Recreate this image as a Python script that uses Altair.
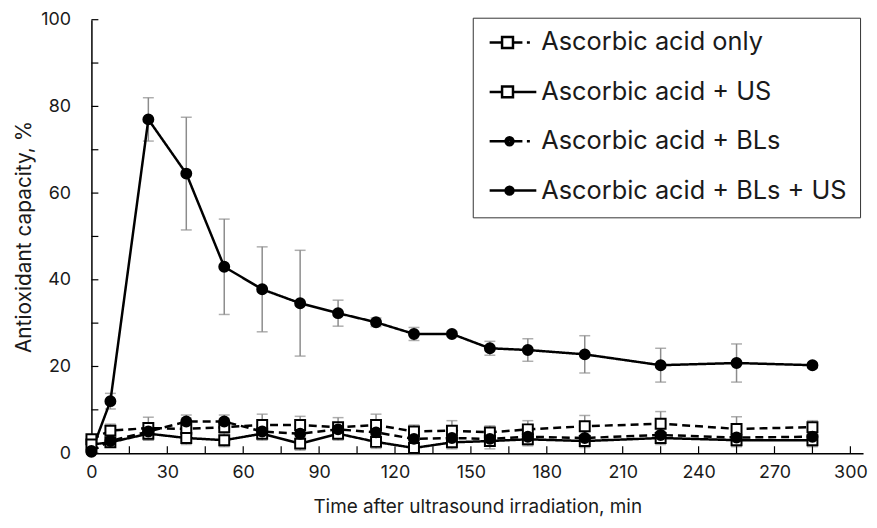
import altair as alt
import pandas as pd

# ---------------- data ----------------
times = [0, 7.5, 22.5, 37.5, 52.5, 67.5, 82.5, 97.5, 112.5, 127.5, 142.5,
         157.5, 172.5, 195, 225, 255, 285]

series_names = ["Ascorbic acid only", "Ascorbic acid + US",
                "Ascorbic acid + BLs", "Ascorbic acid + BLs + US"]

aa_only = [3.2, 5.2, 5.8, 5.6, 6.0, 6.5, 6.5, 6.0, 6.5, 5.0, 5.2, 4.8, 5.5, 6.2, 6.8, 5.6, 6.0]
aa_only_err = [1.0, 1.5, 2.5, 2.5, 2.0, 2.5, 2.0, 2.2, 2.5, 1.5, 2.3, 1.5, 2.0, 2.5, 2.8, 2.8, 1.5]

aa_us = [2.0, 2.5, 4.5, 3.5, 3.0, 4.5, 2.2, 4.5, 2.6, 1.2, 2.5, 2.8, 3.2, 2.8, 3.5, 3.0, 3.0]
aa_us_err = [1.0, 1.0, 1.5, 1.5, 1.5, 1.5, 1.5, 1.5, 1.5, 1.5, 1.5, 1.8, 1.5, 1.5, 1.5, 1.5, 1.5]

aa_bls = [0.5, 2.8, 5.0, 7.3, 7.3, 5.0, 4.5, 5.5, 4.8, 3.3, 3.5, 3.3, 3.8, 3.5, 4.2, 3.6, 3.8]
aa_bls_err = [0.5, 1.0, 2.0, 1.5, 1.5, 1.5, 1.5, 1.5, 1.5, 1.5, 1.5, 1.5, 1.5, 1.5, 1.5, 1.5, 1.5]

aa_bls_us = [0.3, 12.0, 77.0, 64.5, 43.0, 37.8, 34.6, 32.3, 30.2, 27.5, 27.5,
             24.2, 23.8, 22.8, 20.3, 20.8, 20.3]
aa_bls_us_err = [0.5, 1.8, 5.0, 13.0, 11.0, 9.8, 12.2, 3.0, 1.0, 1.5, 0.6,
                 1.6, 2.6, 4.3, 3.9, 4.4, 0.6]

x_tick_values = list(range(0, 301, 15))
y_tick_values = list(range(0, 101, 10))
x_label_values = list(range(0, 301, 30))
y_label_values = list(range(0, 101, 20))

values = [aa_only, aa_us, aa_bls, aa_bls_us]
errors = [aa_only_err, aa_us_err, aa_bls_err, aa_bls_us_err]

rows = []
for name, vals, errs in zip(series_names, values, errors):
    for t, v, e in zip(times, vals, errs):
        rows.append({"t": t, "v": v, "err": e, "series": name})
df = pd.DataFrame(rows)

# ---------------- styling ----------------
FONT = "Inter"
W, H = 777, 436.5
TXT = "#1a1a1a"

x_scale = alt.Scale(domain=[0, 305], nice=False, zero=False)
y_scale = alt.Scale(domain=[0, 100], nice=False)

X = alt.X("t:Q", scale=x_scale,
          axis=alt.Axis(values=x_label_values, title="Time after ultrasound irradiation, min",
                        tickSize=0, labelPadding=10, titlePadding=17, grid=False,
                        labelFlush=False, labelOverlap=False,
                        domainColor="black", domainWidth=1.5,
                        labelFont=FONT, titleFont=FONT, labelFontSize=18, titleFontSize=19,
                        labelColor=TXT, titleColor=TXT, titleFontWeight="normal"))
Y = alt.Y("v:Q", scale=y_scale,
          axis=alt.Axis(values=y_label_values, title="Antioxidant capacity, %",
                        tickSize=0, labelPadding=21, titlePadding=6, grid=False,
                        labelFlush=False, labelOverlap=False,
                        domainColor="black", domainWidth=1.5,
                        labelFont=FONT, titleFont=FONT, labelFontSize=18, titleFontSize=21,
                        labelColor=TXT, titleColor=TXT, titleFontWeight="normal"))

base = alt.Chart(df)

errbars = base.mark_errorbar(ticks=True, size=11, thickness=1.5, color="#8c8c8c").encode(
    x=X, y=Y, yError="err:Q", detail="series:N")

lines = base.mark_line(color="black", strokeWidth=2.5).encode(
    x=X, y=Y, detail="series:N",
    strokeDash=alt.StrokeDash("series:N", legend=None,
                              scale=alt.Scale(domain=series_names,
                                              range=[[8, 5], [1, 0], [8, 5], [1, 0]])))

points = base.mark_point(filled=True, stroke="black", strokeWidth=2, opacity=1).encode(
    x=X, y=Y,
    shape=alt.Shape("series:N", legend=None,
                    scale=alt.Scale(domain=series_names,
                                    range=["square", "square", "circle", "circle"])),
    fill=alt.Fill("series:N", legend=None,
                  scale=alt.Scale(domain=series_names,
                                  range=["white", "white", "black", "black"])),
    size=alt.Size("series:N", legend=None,
                  scale=alt.Scale(domain=series_names, range=[100, 100, 121, 121])))

# legend symbols: line + marker glyphs as SVG paths (pixel offsets / unit)
U = 23.0


def seg(x0, x1):
    return f"M{x0 / U:.3f},0H{x1 / U:.3f}"


def square(cx, h):
    return (f"M{(cx - h) / U:.3f},{-h / U:.3f}H{(cx + h) / U:.3f}"
            f"V{h / U:.3f}H{(cx - h) / U:.3f}Z")


def disc(cx):
    out = ""
    for r in (4.0, 2.5, 1.0):
        out += (f"M{(cx + r) / U:.3f},0A{r / U:.3f},{r / U:.3f} 0 1 0 {(cx - r) / U:.3f},0"
                f"A{r / U:.3f},{r / U:.3f} 0 1 0 {(cx + r) / U:.3f},0Z")
    return out


sym_only = seg(-23.5, -11.5) + square(-5.5, 5.5) + seg(0.5, 9.5) + seg(14, 17)
sym_us = seg(-23.5, -11.5) + square(-5.5, 5.5) + seg(0.5, 23.5)
sym_bls = seg(-23.5, -8.5) + disc(-3.5) + seg(1.5, 9.5) + seg(14, 17)
sym_bls_us = seg(-23.5, 23.5) + disc(-3.5)

legend_layer = alt.Chart(df).transform_filter("false").mark_point(
    filled=False, color="black", strokeWidth=2.5, opacity=1).encode(
    x=X, y=Y,
    shape=alt.Shape("series:N",
                    scale=alt.Scale(domain=series_names,
                                    range=[sym_only, sym_us, sym_bls, sym_bls_us]),
                    legend=alt.Legend(orient="none", legendX=384, legendY=-2, title=None,
                                      labelFont=FONT, labelFontSize=25.5, labelColor=TXT,
                                      symbolSize=U * U * 4, symbolStrokeWidth=2.5,
                                      symbolStrokeColor="black", symbolOpacity=1,
                                      symbolOffset=3, labelOffset=4,
                                      padding=13, rowPadding=23.7, clipHeight=24,
                                      strokeColor="#333", labelLimit=0,
                                      direction="vertical")))

ytick_layer = alt.Chart(pd.DataFrame({"v": y_tick_values})).mark_rule(
    color="black", strokeWidth=1.2).encode(y=Y, x=alt.value(0), x2=alt.value(7))
xtick_layer = alt.Chart(pd.DataFrame({"t": x_tick_values})).mark_rule(
    color="black", strokeWidth=1.2).encode(x=X, y=alt.value(H), y2=alt.value(H - 7))

chart = alt.layer(errbars, lines, points, ytick_layer, xtick_layer, legend_layer).resolve_scale(
    shape="independent"
).properties(
    width=W, height=H,
    autosize=alt.AutoSizeParams(type="none"),
    padding={"left": 84, "top": 10, "right": 6, "bottom": 65},
    background="white",
).configure_view(stroke=None)

chart.save("out.html", embed_options={"renderer": "svg", "actions": False})
